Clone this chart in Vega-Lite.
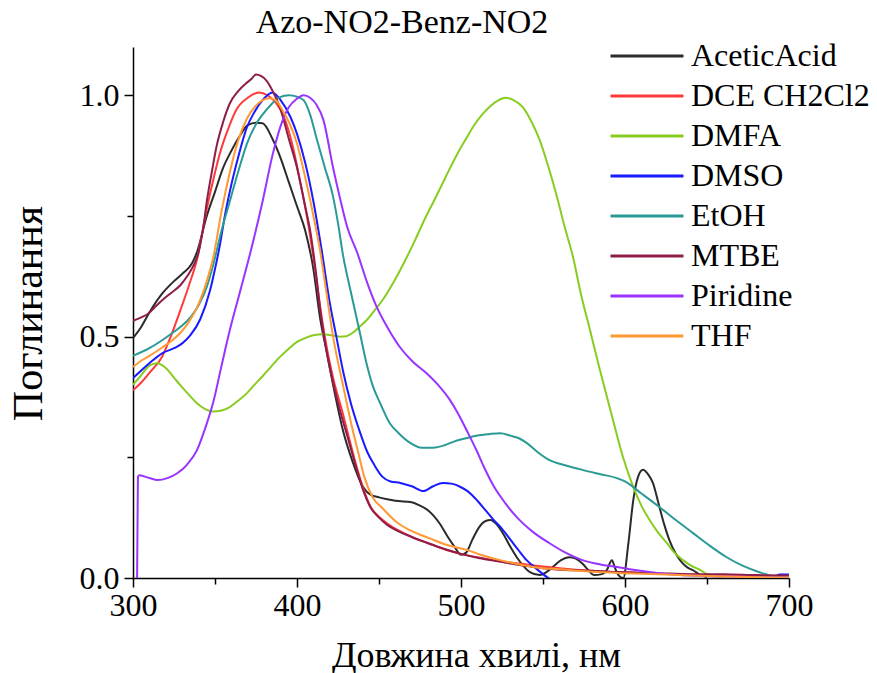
{
  "$schema": "https://vega.github.io/schema/vega-lite/v6.json",
  "width": 656,
  "height": 531,
  "autosize": {"type": "none"},
  "padding": {"left": 133, "top": 47, "right": 88, "bottom": 95},
  "background": "white",
  "config": {"view": {"stroke": null}, "font": "Liberation Serif", "title": {"font": "Liberation Serif"}},
  "title": {"text": "Azo-NO2-Benz-NO2", "fontSize": 34, "font": "Liberation Serif", "fontWeight": "normal", "anchor": "middle", "dx": -59, "offset": 0, "color": "black"},
  "data": {"values": [
    {"s":"AceticAcid","x":300,"y":0.497},{"s":"AceticAcid","x":305,"y":0.52},{"s":"AceticAcid","x":310,"y":0.55},{"s":"AceticAcid","x":318,"y":0.59},{"s":"AceticAcid","x":325,"y":0.615},{"s":"AceticAcid","x":330,"y":0.63},{"s":"AceticAcid","x":336,"y":0.652},{"s":"AceticAcid","x":339,"y":0.675},{"s":"AceticAcid","x":345,"y":0.75},{"s":"AceticAcid","x":350,"y":0.8},{"s":"AceticAcid","x":355,"y":0.85},{"s":"AceticAcid","x":360,"y":0.885},{"s":"AceticAcid","x":365,"y":0.915},{"s":"AceticAcid","x":370,"y":0.938},{"s":"AceticAcid","x":375,"y":0.943},{"s":"AceticAcid","x":379,"y":0.942},{"s":"AceticAcid","x":385,"y":0.91},{"s":"AceticAcid","x":390,"y":0.87},{"s":"AceticAcid","x":395,"y":0.82},{"s":"AceticAcid","x":400,"y":0.77},{"s":"AceticAcid","x":405,"y":0.72},{"s":"AceticAcid","x":410,"y":0.64},{"s":"AceticAcid","x":414,"y":0.54},{"s":"AceticAcid","x":418,"y":0.47},{"s":"AceticAcid","x":422,"y":0.4},{"s":"AceticAcid","x":428,"y":0.306},{"s":"AceticAcid","x":434,"y":0.24},{"s":"AceticAcid","x":440,"y":0.19},{"s":"AceticAcid","x":445,"y":0.172},{"s":"AceticAcid","x":450,"y":0.167},{"s":"AceticAcid","x":455,"y":0.163},{"s":"AceticAcid","x":460,"y":0.16},{"s":"AceticAcid","x":470,"y":0.157},{"s":"AceticAcid","x":475,"y":0.15},{"s":"AceticAcid","x":480,"y":0.14},{"s":"AceticAcid","x":487,"y":0.113},{"s":"AceticAcid","x":492,"y":0.085},{"s":"AceticAcid","x":496,"y":0.065},{"s":"AceticAcid","x":500,"y":0.048},{"s":"AceticAcid","x":503,"y":0.052},{"s":"AceticAcid","x":507,"y":0.08},{"s":"AceticAcid","x":511,"y":0.105},{"s":"AceticAcid","x":515,"y":0.118},{"s":"AceticAcid","x":518,"y":0.12},{"s":"AceticAcid","x":522,"y":0.11},{"s":"AceticAcid","x":526,"y":0.09},{"s":"AceticAcid","x":530,"y":0.065},{"s":"AceticAcid","x":534,"y":0.043},{"s":"AceticAcid","x":538,"y":0.025},{"s":"AceticAcid","x":542,"y":0.012},{"s":"AceticAcid","x":548,"y":0.006},{"s":"AceticAcid","x":552,"y":0.012},{"s":"AceticAcid","x":556,"y":0.023},{"s":"AceticAcid","x":561,"y":0.037},{"s":"AceticAcid","x":566,"y":0.043},{"s":"AceticAcid","x":570,"y":0.04},{"s":"AceticAcid","x":574,"y":0.03},{"s":"AceticAcid","x":578,"y":0.015},{"s":"AceticAcid","x":581,"y":0.006},{"s":"AceticAcid","x":586,"y":0.008},{"s":"AceticAcid","x":589,"y":0.017},{"s":"AceticAcid","x":592,"y":0.037},{"s":"AceticAcid","x":594,"y":0.02},{"s":"AceticAcid","x":596,"y":0.006},{"s":"AceticAcid","x":599,"y":0.0},{"s":"AceticAcid","x":602,"y":0.07},{"s":"AceticAcid","x":605,"y":0.16},{"s":"AceticAcid","x":608,"y":0.21},{"s":"AceticAcid","x":611,"y":0.224},{"s":"AceticAcid","x":614,"y":0.215},{"s":"AceticAcid","x":617,"y":0.197},{"s":"AceticAcid","x":621,"y":0.147},{"s":"AceticAcid","x":624,"y":0.11},{"s":"AceticAcid","x":627,"y":0.079},{"s":"AceticAcid","x":631,"y":0.05},{"s":"AceticAcid","x":634,"y":0.035},{"s":"AceticAcid","x":638,"y":0.022},{"s":"AceticAcid","x":642,"y":0.015},{"s":"AceticAcid","x":646,"y":0.006},{"s":"AceticAcid","x":650,"y":0.002},

    {"s":"DCE CH2Cl2","x":300,"y":0.389},{"s":"DCE CH2Cl2","x":305,"y":0.405},{"s":"DCE CH2Cl2","x":310,"y":0.425},{"s":"DCE CH2Cl2","x":318,"y":0.46},{"s":"DCE CH2Cl2","x":323,"y":0.5},{"s":"DCE CH2Cl2","x":328.7,"y":0.553},{"s":"DCE CH2Cl2","x":334,"y":0.605},{"s":"DCE CH2Cl2","x":339,"y":0.66},{"s":"DCE CH2Cl2","x":345,"y":0.765},{"s":"DCE CH2Cl2","x":350,"y":0.84},{"s":"DCE CH2Cl2","x":353,"y":0.88},{"s":"DCE CH2Cl2","x":358,"y":0.93},{"s":"DCE CH2Cl2","x":363,"y":0.97},{"s":"DCE CH2Cl2","x":370,"y":0.995},{"s":"DCE CH2Cl2","x":377,"y":1.006},{"s":"DCE CH2Cl2","x":382,"y":1.0},{"s":"DCE CH2Cl2","x":387,"y":0.985},{"s":"DCE CH2Cl2","x":392,"y":0.955},{"s":"DCE CH2Cl2","x":397,"y":0.9},{"s":"DCE CH2Cl2","x":402,"y":0.82},{"s":"DCE CH2Cl2","x":407,"y":0.73},{"s":"DCE CH2Cl2","x":411,"y":0.64},{"s":"DCE CH2Cl2","x":414,"y":0.565},{"s":"DCE CH2Cl2","x":418,"y":0.48},{"s":"DCE CH2Cl2","x":422,"y":0.415},{"s":"DCE CH2Cl2","x":428,"y":0.34},{"s":"DCE CH2Cl2","x":431,"y":0.3},{"s":"DCE CH2Cl2","x":436,"y":0.235},{"s":"DCE CH2Cl2","x":440,"y":0.19},{"s":"DCE CH2Cl2","x":445,"y":0.147},{"s":"DCE CH2Cl2","x":450,"y":0.127},{"s":"DCE CH2Cl2","x":455,"y":0.113},{"s":"DCE CH2Cl2","x":461,"y":0.1},{"s":"DCE CH2Cl2","x":470,"y":0.085},{"s":"DCE CH2Cl2","x":480,"y":0.072},{"s":"DCE CH2Cl2","x":491,"y":0.058},{"s":"DCE CH2Cl2","x":500,"y":0.05},{"s":"DCE CH2Cl2","x":510,"y":0.043},{"s":"DCE CH2Cl2","x":520,"y":0.037},{"s":"DCE CH2Cl2","x":530,"y":0.032},{"s":"DCE CH2Cl2","x":540,"y":0.028},{"s":"DCE CH2Cl2","x":550,"y":0.024},{"s":"DCE CH2Cl2","x":560,"y":0.02},{"s":"DCE CH2Cl2","x":570,"y":0.017},{"s":"DCE CH2Cl2","x":580,"y":0.015},{"s":"DCE CH2Cl2","x":590,"y":0.013},{"s":"DCE CH2Cl2","x":600,"y":0.012},{"s":"DCE CH2Cl2","x":620,"y":0.009},{"s":"DCE CH2Cl2","x":640,"y":0.007},{"s":"DCE CH2Cl2","x":660,"y":0.005},{"s":"DCE CH2Cl2","x":680,"y":0.004},{"s":"DCE CH2Cl2","x":700,"y":0.003},

    {"s":"DMFA","x":300,"y":0.4},{"s":"DMFA","x":305,"y":0.42},{"s":"DMFA","x":310,"y":0.44},{"s":"DMFA","x":314.6,"y":0.445},{"s":"DMFA","x":320,"y":0.435},{"s":"DMFA","x":325,"y":0.415},{"s":"DMFA","x":328.7,"y":0.4},{"s":"DMFA","x":334,"y":0.38},{"s":"DMFA","x":339,"y":0.362},{"s":"DMFA","x":344,"y":0.35},{"s":"DMFA","x":349,"y":0.345},{"s":"DMFA","x":354,"y":0.347},{"s":"DMFA","x":359,"y":0.354},{"s":"DMFA","x":364,"y":0.367},{"s":"DMFA","x":369.5,"y":0.383},{"s":"DMFA","x":374,"y":0.4},{"s":"DMFA","x":379,"y":0.418},{"s":"DMFA","x":384,"y":0.437},{"s":"DMFA","x":389.6,"y":0.458},{"s":"DMFA","x":395,"y":0.475},{"s":"DMFA","x":400,"y":0.489},{"s":"DMFA","x":405,"y":0.497},{"s":"DMFA","x":410,"y":0.503},{"s":"DMFA","x":416,"y":0.505},{"s":"DMFA","x":421,"y":0.503},{"s":"DMFA","x":426,"y":0.5},{"s":"DMFA","x":430,"y":0.501},{"s":"DMFA","x":434,"y":0.508},{"s":"DMFA","x":438,"y":0.52},{"s":"DMFA","x":442.7,"y":0.535},{"s":"DMFA","x":447,"y":0.553},{"s":"DMFA","x":452.4,"y":0.577},{"s":"DMFA","x":457,"y":0.602},{"s":"DMFA","x":462,"y":0.632},{"s":"DMFA","x":467,"y":0.665},{"s":"DMFA","x":472,"y":0.7},{"s":"DMFA","x":477,"y":0.737},{"s":"DMFA","x":483,"y":0.778},{"s":"DMFA","x":488,"y":0.812},{"s":"DMFA","x":493,"y":0.847},{"s":"DMFA","x":498,"y":0.88},{"s":"DMFA","x":503.6,"y":0.913},{"s":"DMFA","x":508,"y":0.938},{"s":"DMFA","x":513.4,"y":0.962},{"s":"DMFA","x":518,"y":0.978},{"s":"DMFA","x":523,"y":0.99},{"s":"DMFA","x":527,"y":0.995},{"s":"DMFA","x":532,"y":0.99},{"s":"DMFA","x":537.8,"y":0.975},{"s":"DMFA","x":543,"y":0.945},{"s":"DMFA","x":548,"y":0.907},{"s":"DMFA","x":553,"y":0.855},{"s":"DMFA","x":558.5,"y":0.79},{"s":"DMFA","x":563,"y":0.73},{"s":"DMFA","x":568.3,"y":0.665},{"s":"DMFA","x":573,"y":0.59},{"s":"DMFA","x":578.7,"y":0.513},{"s":"DMFA","x":584,"y":0.44},{"s":"DMFA","x":589,"y":0.375},{"s":"DMFA","x":594,"y":0.31},{"s":"DMFA","x":598.8,"y":0.25},{"s":"DMFA","x":604.9,"y":0.19},{"s":"DMFA","x":610,"y":0.15},{"s":"DMFA","x":615,"y":0.12},{"s":"DMFA","x":620,"y":0.095},{"s":"DMFA","x":625.6,"y":0.072},{"s":"DMFA","x":630,"y":0.053},{"s":"DMFA","x":635.4,"y":0.037},{"s":"DMFA","x":640,"y":0.026},{"s":"DMFA","x":645.7,"y":0.017},{"s":"DMFA","x":650,"y":0.008},{"s":"DMFA","x":656,"y":0.002},{"s":"DMFA","x":660,"y":0.0},

    {"s":"DMSO","x":300,"y":0.414},{"s":"DMSO","x":305,"y":0.43},{"s":"DMSO","x":310,"y":0.445},{"s":"DMSO","x":318,"y":0.466},{"s":"DMSO","x":325,"y":0.476},{"s":"DMSO","x":330,"y":0.486},{"s":"DMSO","x":335,"y":0.503},{"s":"DMSO","x":341,"y":0.536},{"s":"DMSO","x":347,"y":0.596},{"s":"DMSO","x":350,"y":0.64},{"s":"DMSO","x":353,"y":0.69},{"s":"DMSO","x":356,"y":0.75},{"s":"DMSO","x":359,"y":0.8},{"s":"DMSO","x":364,"y":0.87},{"s":"DMSO","x":369.5,"y":0.934},{"s":"DMSO","x":374,"y":0.965},{"s":"DMSO","x":379,"y":0.99},{"s":"DMSO","x":385,"y":1.006},{"s":"DMSO","x":390,"y":0.99},{"s":"DMSO","x":396,"y":0.955},{"s":"DMSO","x":400,"y":0.92},{"s":"DMSO","x":405,"y":0.86},{"s":"DMSO","x":410,"y":0.78},{"s":"DMSO","x":415,"y":0.68},{"s":"DMSO","x":420,"y":0.57},{"s":"DMSO","x":424,"y":0.5},{"s":"DMSO","x":428,"y":0.43},{"s":"DMSO","x":433,"y":0.36},{"s":"DMSO","x":438,"y":0.306},{"s":"DMSO","x":443,"y":0.26},{"s":"DMSO","x":447,"y":0.235},{"s":"DMSO","x":452,"y":0.21},{"s":"DMSO","x":457,"y":0.2},{"s":"DMSO","x":463,"y":0.197},{"s":"DMSO","x":470,"y":0.19},{"s":"DMSO","x":477,"y":0.18},{"s":"DMSO","x":483,"y":0.19},{"s":"DMSO","x":489,"y":0.197},{"s":"DMSO","x":495,"y":0.195},{"s":"DMSO","x":500,"y":0.188},{"s":"DMSO","x":504,"y":0.18},{"s":"DMSO","x":510,"y":0.16},{"s":"DMSO","x":515,"y":0.14},{"s":"DMSO","x":520,"y":0.12},{"s":"DMSO","x":524,"y":0.106},{"s":"DMSO","x":530,"y":0.08},{"s":"DMSO","x":535,"y":0.058},{"s":"DMSO","x":540,"y":0.037},{"s":"DMSO","x":545,"y":0.022},{"s":"DMSO","x":550,"y":0.008},{"s":"DMSO","x":555,"y":-0.004},{"s":"DMSO","x":570,"y":-0.02},{"s":"DMSO","x":650,"y":-0.02},{"s":"DMSO","x":690,"y":-0.005},{"s":"DMSO","x":694,"y":0.007},{"s":"DMSO","x":700,"y":0.007},

    {"s":"EtOH","x":300,"y":0.46},{"s":"EtOH","x":310,"y":0.476},{"s":"EtOH","x":318,"y":0.493},{"s":"EtOH","x":325,"y":0.51},{"s":"EtOH","x":330,"y":0.523},{"s":"EtOH","x":335,"y":0.54},{"s":"EtOH","x":340,"y":0.565},{"s":"EtOH","x":345,"y":0.603},{"s":"EtOH","x":349,"y":0.65},{"s":"EtOH","x":354,"y":0.72},{"s":"EtOH","x":359,"y":0.78},{"s":"EtOH","x":364,"y":0.84},{"s":"EtOH","x":369.5,"y":0.9},{"s":"EtOH","x":375,"y":0.94},{"s":"EtOH","x":379,"y":0.96},{"s":"EtOH","x":384,"y":0.98},{"s":"EtOH","x":389.6,"y":0.996},{"s":"EtOH","x":395,"y":1.0},{"s":"EtOH","x":400,"y":0.997},{"s":"EtOH","x":404,"y":0.99},{"s":"EtOH","x":408,"y":0.96},{"s":"EtOH","x":412,"y":0.91},{"s":"EtOH","x":417,"y":0.85},{"s":"EtOH","x":422,"y":0.79},{"s":"EtOH","x":425,"y":0.735},{"s":"EtOH","x":428,"y":0.67},{"s":"EtOH","x":433,"y":0.59},{"s":"EtOH","x":438.4,"y":0.507},{"s":"EtOH","x":442,"y":0.45},{"s":"EtOH","x":446,"y":0.4},{"s":"EtOH","x":451,"y":0.36},{"s":"EtOH","x":456.7,"y":0.32},{"s":"EtOH","x":462,"y":0.3},{"s":"EtOH","x":469,"y":0.28},{"s":"EtOH","x":476,"y":0.27},{"s":"EtOH","x":483,"y":0.27},{"s":"EtOH","x":490,"y":0.275},{"s":"EtOH","x":496,"y":0.283},{"s":"EtOH","x":503.6,"y":0.29},{"s":"EtOH","x":510,"y":0.295},{"s":"EtOH","x":517,"y":0.298},{"s":"EtOH","x":524,"y":0.3},{"s":"EtOH","x":530,"y":0.295},{"s":"EtOH","x":535,"y":0.29},{"s":"EtOH","x":540,"y":0.28},{"s":"EtOH","x":547,"y":0.26},{"s":"EtOH","x":554,"y":0.244},{"s":"EtOH","x":564,"y":0.233},{"s":"EtOH","x":574,"y":0.224},{"s":"EtOH","x":585,"y":0.215},{"s":"EtOH","x":595,"y":0.207},{"s":"EtOH","x":600,"y":0.2},{"s":"EtOH","x":610,"y":0.175},{"s":"EtOH","x":621,"y":0.147},{"s":"EtOH","x":631,"y":0.12},{"s":"EtOH","x":641.5,"y":0.093},{"s":"EtOH","x":652,"y":0.066},{"s":"EtOH","x":662,"y":0.043},{"s":"EtOH","x":672,"y":0.025},{"s":"EtOH","x":682,"y":0.012},{"s":"EtOH","x":690,"y":0.004},{"s":"EtOH","x":695,"y":0.002},{"s":"EtOH","x":700,"y":0.001},

    {"s":"MTBE","x":300,"y":0.533},{"s":"MTBE","x":305,"y":0.54},{"s":"MTBE","x":309,"y":0.547},{"s":"MTBE","x":313,"y":0.56},{"s":"MTBE","x":318,"y":0.576},{"s":"MTBE","x":323,"y":0.59},{"s":"MTBE","x":329,"y":0.607},{"s":"MTBE","x":333,"y":0.625},{"s":"MTBE","x":337,"y":0.648},{"s":"MTBE","x":340,"y":0.675},{"s":"MTBE","x":343,"y":0.73},{"s":"MTBE","x":345,"y":0.78},{"s":"MTBE","x":348,"y":0.84},{"s":"MTBE","x":351,"y":0.895},{"s":"MTBE","x":355,"y":0.945},{"s":"MTBE","x":359,"y":0.983},{"s":"MTBE","x":364,"y":1.008},{"s":"MTBE","x":369,"y":1.025},{"s":"MTBE","x":372,"y":1.033},{"s":"MTBE","x":375,"y":1.043},{"s":"MTBE","x":378,"y":1.04},{"s":"MTBE","x":381.5,"y":1.03},{"s":"MTBE","x":385,"y":1.01},{"s":"MTBE","x":389.6,"y":0.975},{"s":"MTBE","x":395,"y":0.91},{"s":"MTBE","x":400,"y":0.85},{"s":"MTBE","x":405,"y":0.77},{"s":"MTBE","x":408,"y":0.72},{"s":"MTBE","x":412,"y":0.62},{"s":"MTBE","x":414,"y":0.56},{"s":"MTBE","x":417,"y":0.49},{"s":"MTBE","x":421,"y":0.42},{"s":"MTBE","x":426,"y":0.35},{"s":"MTBE","x":431,"y":0.29},{"s":"MTBE","x":436,"y":0.23},{"s":"MTBE","x":440,"y":0.185},{"s":"MTBE","x":445,"y":0.145},{"s":"MTBE","x":450,"y":0.125},{"s":"MTBE","x":455,"y":0.11},{"s":"MTBE","x":461,"y":0.098},{"s":"MTBE","x":470,"y":0.085},{"s":"MTBE","x":480,"y":0.072},{"s":"MTBE","x":490,"y":0.06},{"s":"MTBE","x":500,"y":0.05},{"s":"MTBE","x":510,"y":0.042},{"s":"MTBE","x":520,"y":0.036},{"s":"MTBE","x":530,"y":0.03},{"s":"MTBE","x":540,"y":0.025},{"s":"MTBE","x":550,"y":0.02},{"s":"MTBE","x":560,"y":0.017},{"s":"MTBE","x":570,"y":0.016},{"s":"MTBE","x":580,"y":0.015},{"s":"MTBE","x":590,"y":0.013},{"s":"MTBE","x":600,"y":0.012},{"s":"MTBE","x":620,"y":0.01},{"s":"MTBE","x":640,"y":0.008},{"s":"MTBE","x":660,"y":0.008},{"s":"MTBE","x":680,"y":0.006},{"s":"MTBE","x":700,"y":0.005},

    {"s":"Piridine","x":302.5,"y":0},{"s":"Piridine","x":303,"y":0.21},{"s":"Piridine","x":304,"y":0.213},{"s":"Piridine","x":310,"y":0.207},{"s":"Piridine","x":315,"y":0.203},{"s":"Piridine","x":321,"y":0.207},{"s":"Piridine","x":327,"y":0.217},{"s":"Piridine","x":333,"y":0.235},{"s":"Piridine","x":339,"y":0.265},{"s":"Piridine","x":344,"y":0.31},{"s":"Piridine","x":349,"y":0.365},{"s":"Piridine","x":354,"y":0.44},{"s":"Piridine","x":359,"y":0.513},{"s":"Piridine","x":365,"y":0.59},{"s":"Piridine","x":372,"y":0.68},{"s":"Piridine","x":379,"y":0.78},{"s":"Piridine","x":385,"y":0.875},{"s":"Piridine","x":389.6,"y":0.932},{"s":"Piridine","x":395,"y":0.975},{"s":"Piridine","x":400,"y":0.993},{"s":"Piridine","x":404,"y":1.0},{"s":"Piridine","x":408,"y":0.995},{"s":"Piridine","x":412,"y":0.98},{"s":"Piridine","x":416,"y":0.95},{"s":"Piridine","x":422,"y":0.85},{"s":"Piridine","x":426,"y":0.79},{"s":"Piridine","x":430.6,"y":0.727},{"s":"Piridine","x":436.6,"y":0.675},{"s":"Piridine","x":443,"y":0.61},{"s":"Piridine","x":448.8,"y":0.56},{"s":"Piridine","x":455,"y":0.52},{"s":"Piridine","x":462.8,"y":0.478},{"s":"Piridine","x":470,"y":0.45},{"s":"Piridine","x":479,"y":0.424},{"s":"Piridine","x":486,"y":0.4},{"s":"Piridine","x":493,"y":0.37},{"s":"Piridine","x":498,"y":0.342},{"s":"Piridine","x":503.6,"y":0.305},{"s":"Piridine","x":509.8,"y":0.262},{"s":"Piridine","x":514,"y":0.23},{"s":"Piridine","x":520,"y":0.19},{"s":"Piridine","x":527,"y":0.155},{"s":"Piridine","x":534,"y":0.126},{"s":"Piridine","x":544,"y":0.095},{"s":"Piridine","x":554,"y":0.072},{"s":"Piridine","x":564,"y":0.052},{"s":"Piridine","x":574,"y":0.037},{"s":"Piridine","x":585,"y":0.028},{"s":"Piridine","x":595,"y":0.023},{"s":"Piridine","x":605,"y":0.017},{"s":"Piridine","x":621,"y":0.01},{"s":"Piridine","x":641,"y":0.005},{"s":"Piridine","x":660,"y":0.003},{"s":"Piridine","x":680,"y":0.002},{"s":"Piridine","x":700,"y":0.001},

    {"s":"THF","x":300,"y":0.437},{"s":"THF","x":305,"y":0.45},{"s":"THF","x":310,"y":0.46},{"s":"THF","x":318,"y":0.478},{"s":"THF","x":323,"y":0.49},{"s":"THF","x":328.7,"y":0.507},{"s":"THF","x":334,"y":0.53},{"s":"THF","x":339,"y":0.56},{"s":"THF","x":345,"y":0.615},{"s":"THF","x":349,"y":0.665},{"s":"THF","x":354,"y":0.76},{"s":"THF","x":359,"y":0.84},{"s":"THF","x":364,"y":0.905},{"s":"THF","x":369.5,"y":0.952},{"s":"THF","x":374,"y":0.975},{"s":"THF","x":379,"y":0.99},{"s":"THF","x":383,"y":0.994},{"s":"THF","x":387,"y":0.99},{"s":"THF","x":391,"y":0.97},{"s":"THF","x":395.7,"y":0.94},{"s":"THF","x":400,"y":0.9},{"s":"THF","x":405,"y":0.83},{"s":"THF","x":410,"y":0.75},{"s":"THF","x":414,"y":0.68},{"s":"THF","x":418,"y":0.59},{"s":"THF","x":422,"y":0.5},{"s":"THF","x":428,"y":0.4},{"s":"THF","x":434,"y":0.306},{"s":"THF","x":437,"y":0.265},{"s":"THF","x":441,"y":0.21},{"s":"THF","x":446,"y":0.168},{"s":"THF","x":452,"y":0.145},{"s":"THF","x":461,"y":0.115},{"s":"THF","x":470,"y":0.097},{"s":"THF","x":481,"y":0.082},{"s":"THF","x":490,"y":0.07},{"s":"THF","x":497.5,"y":0.063},{"s":"THF","x":503.6,"y":0.058},{"s":"THF","x":513,"y":0.047},{"s":"THF","x":523.8,"y":0.037},{"s":"THF","x":533,"y":0.03},{"s":"THF","x":544,"y":0.023},{"s":"THF","x":560,"y":0.018},{"s":"THF","x":580,"y":0.013},{"s":"THF","x":600,"y":0.01},{"s":"THF","x":625,"y":0.007},{"s":"THF","x":650,"y":0.004},{"s":"THF","x":675,"y":0.002},{"s":"THF","x":700,"y":0.001}
  ]},
  "layer": [
    {
      "mark": {"type": "line", "strokeWidth": 2, "clip": true, "interpolate": "monotone"},
      "encoding": {
        "x": {"field": "x", "type": "quantitative", "scale": {"domain": [300, 700], "nice": false, "zero": false},
          "axis": {"orient": "bottom", "values": [300, 400, 500, 600, 700], "grid": false, "labelFlush": false, "tickSize": 9, "tickWidth": 1.5, "tickColor": "black", "domainColor": "black", "domainWidth": 1.5, "labelFontSize": 32, "labelFont": "Liberation Serif", "labelColor": "black", "labelPadding": 3, "title": "Довжина хвилі, нм", "titleFont": "Liberation Serif", "titleFontSize": 36, "titleFontWeight": "normal", "titleColor": "black", "titleX": 343, "titleY": 88, "titleBaseline": "alphabetic", "titleAlign": "center"}},
        "y": {"field": "y", "type": "quantitative", "scale": {"domain": [0, 1.1], "nice": false},
          "axis": {"orient": "left", "values": [0, 0.5, 1.0], "format": ".1f", "grid": false, "labelFlush": false, "tickSize": 9, "tickWidth": 1.5, "tickColor": "black", "domainColor": "black", "domainWidth": 1.5, "labelFontSize": 32, "labelFont": "Liberation Serif", "labelColor": "black", "labelPadding": 5, "title": "Поглинання", "titleFont": "Liberation Serif", "titleFontSize": 42, "titleFontWeight": "normal", "titleColor": "black", "titleX": -92, "titleY": 266, "titleBaseline": "alphabetic", "titleAlign": "center", "titleAngle": -90}},
        "color": {"field": "s", "type": "nominal",
          "scale": {"domain": ["AceticAcid", "DCE CH2Cl2", "DMFA", "DMSO", "EtOH", "MTBE", "Piridine", "THF"],
                    "range": ["#2b2b2b", "#ff3a3a", "#88cc22", "#1a1aff", "#2a9a96", "#8e1d4a", "#9933ff", "#ff9933"]},
          "legend": {"orient": "none", "legendX": 498, "legendY": -7, "title": null, "padding": 0,
            "symbolType": "M-5,0H5", "symbolSize": 213, "symbolStrokeWidth": 3,
            "labelFontSize": 32, "labelFont": "Liberation Serif", "labelColor": "black", "labelOffset": 28, "labelLimit": 400, "rowPadding": 8}}
      }
    },
    {
      "mark": {"type": "line", "opacity": 0, "clip": true},
      "encoding": {
        "x": {"field": "x", "type": "quantitative",
          "axis": {"orient": "bottom", "values": [350, 450, 550, 650], "labels": false, "domain": false, "grid": false, "tickSize": 6, "tickWidth": 1.5, "tickColor": "black", "title": null}},
        "y": {"field": "y", "type": "quantitative",
          "axis": {"orient": "left", "values": [0.25, 0.75], "labels": false, "domain": false, "grid": false, "tickSize": 6, "tickWidth": 1.5, "tickColor": "black", "title": null}},
        "detail": {"field": "s", "type": "nominal"}
      }
    }
  ],
  "resolve": {"axis": {"x": "independent", "y": "independent"}}
}
